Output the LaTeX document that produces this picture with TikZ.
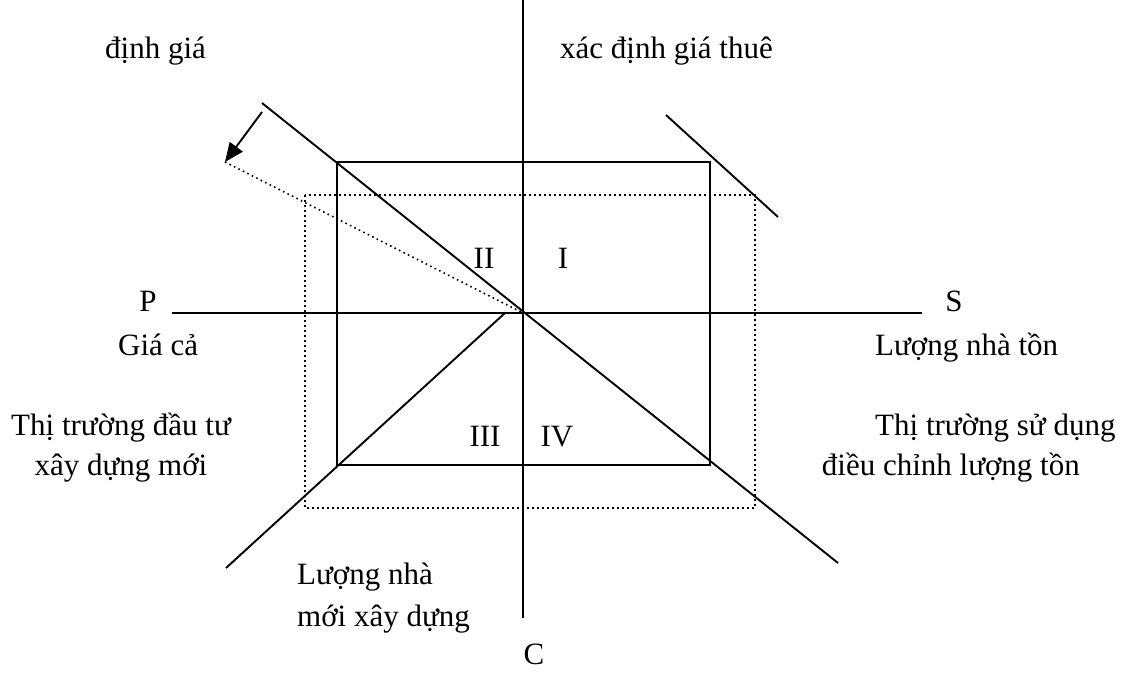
\documentclass[tikz,border=0pt]{standalone}
\usepackage{fontspec}
\setmainfont{Liberation Serif}
\usetikzlibrary{arrows.meta}
\begin{document}
\begin{tikzpicture}[x=1pt,y=-1pt,
  ln/.style={line width=1.9pt},
  dots/.style={line width=1.6pt, dash pattern=on 1.6pt off 3.4pt},
  lbl/.style={inner sep=0pt, font=\fontsize{31}{37}\selectfont}]
\useasboundingbox (0,0) rectangle (1136,673);
% coordinates
\coordinate (O) at (523,313);
\coordinate (vt) at (523,0);
\coordinate (vb) at (523,618);
\coordinate (hl) at (172,313);
\coordinate (hr) at (922,313);
\coordinate (d1) at (262,103);
\coordinate (d2) at (838,563);
\coordinate (u1) at (666,115);
\coordinate (u2) at (778,217);
\coordinate (l1) at (505,313);
\coordinate (l2) at (226,568);
\coordinate (at) at (262,112);
\coordinate (ah) at (225,162);
% axes
\draw[ln] (vt) -- (vb);
\draw[ln] (hl) -- (hr);
% rectangles
\draw[ln] (337,162) rectangle (710,465);
\draw[dots] (305,195) rectangle (755,508);
% diagonals
\draw[ln] (d1) -- (d2);
\draw[ln] (u1) -- (u2);
\draw[ln] (l1) -- (l2);
\draw[dots] (ah) -- (O);
\draw[ln, -{Triangle[length=19pt,width=16pt]}] (at) -- (ah);
% labels
\node[lbl, anchor=base west] (dg) at (105,58) {định giá};
\node[lbl, anchor=base west] (xd) at (560,58) {xác định giá thuê};
\node[lbl, anchor=base] (P) at (148,311) {P};
\node[lbl, anchor=base] (S) at (954,311) {S};
\node[lbl, anchor=base west] (gc) at (118,355) {Giá cả};
\node[lbl, anchor=base west] (lnt) at (875,355) {Lượng nhà tồn};
\node[lbl, anchor=base] (q2) at (484,268) {II};
\node[lbl, anchor=base] (q1) at (563,268) {I};
\node[lbl, anchor=base] (q3) at (485,446) {III};
\node[lbl, anchor=base] (q4) at (557,446) {IV};
\node[lbl, anchor=base] (tt1) at (121,435) {Thị trường đầu tư};
\node[lbl, anchor=base] (tt2) at (121,475) {xây dựng mới};
\node[lbl, anchor=base west] (su1) at (875,435) {Thị trường sử dụng};
\node[lbl, anchor=base east] (su2) at (1080,475) {điều chỉnh lượng tồn};
\node[lbl, anchor=base west] (nm1) at (297,584) {Lượng nhà};
\node[lbl, anchor=base west] (nm2) at (297,626) {mới xây dựng};
\node[lbl, anchor=base] (C) at (534,664) {C};
\end{tikzpicture}
\end{document}
